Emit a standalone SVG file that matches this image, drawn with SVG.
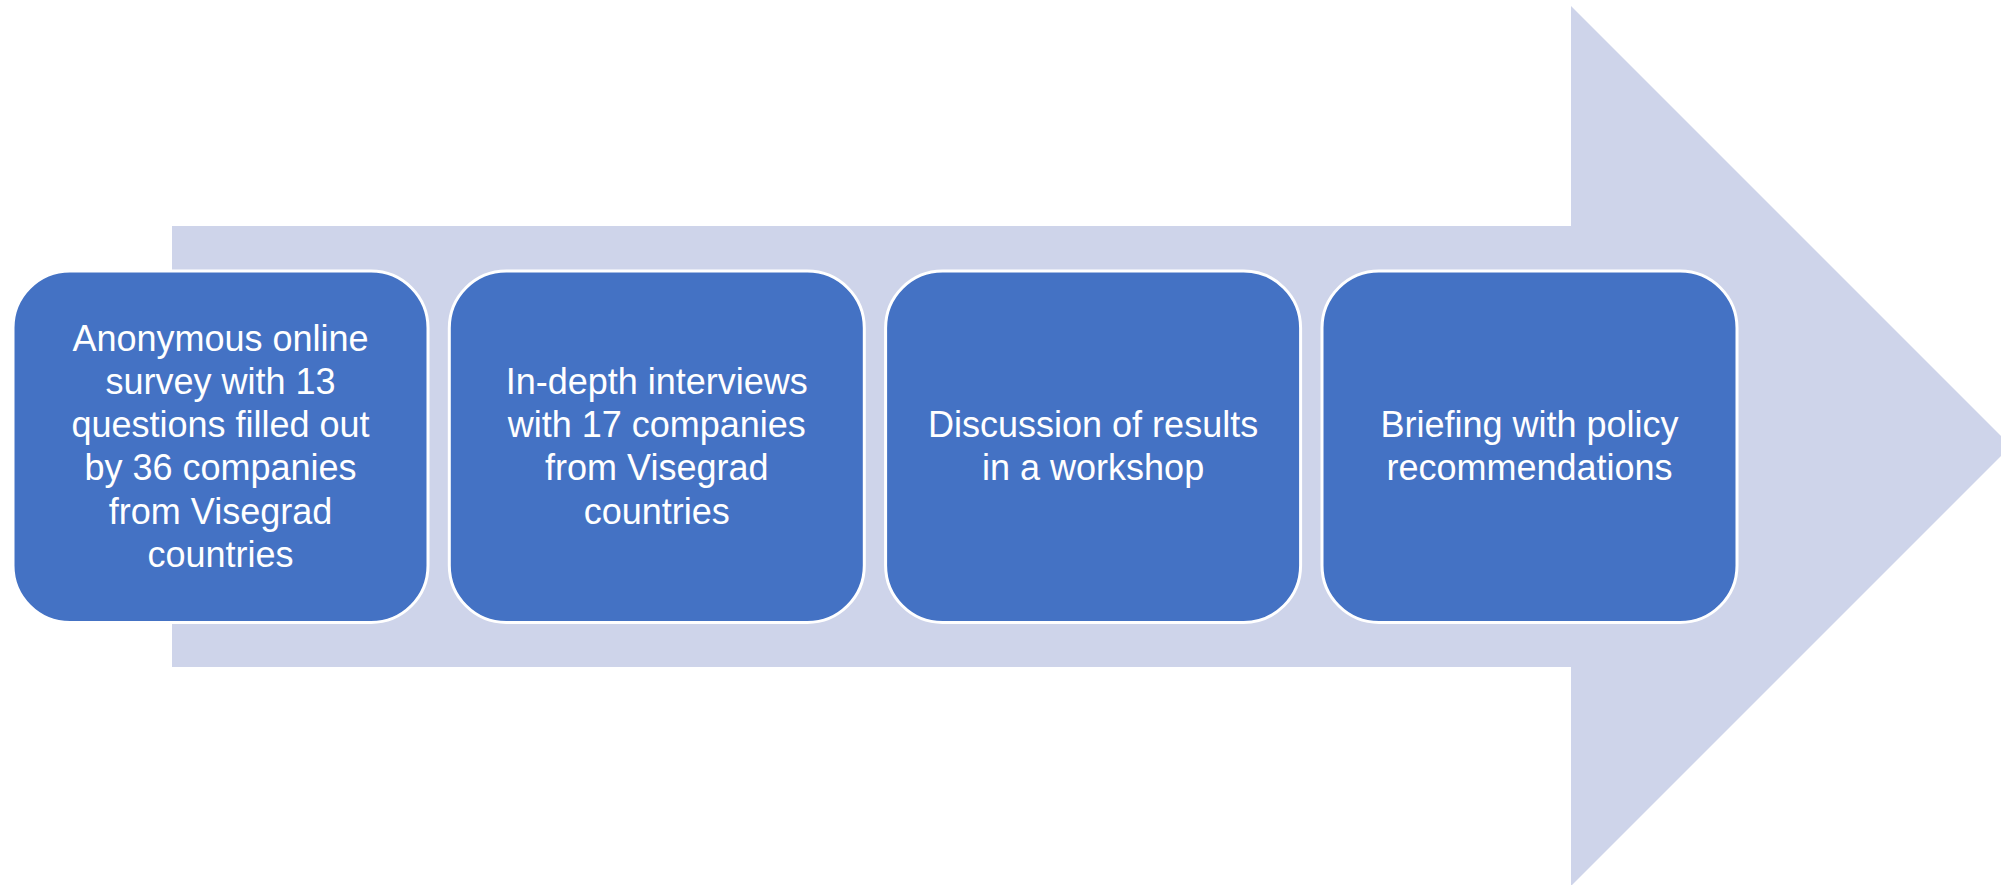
<svg xmlns="http://www.w3.org/2000/svg" width="2001" height="885" viewBox="0 0 2001 885">
<style>
.bg{fill:#FFFFFF}
.arrow{fill:#CED4EA}
.box{fill:#4472C4;stroke:#FFFFFF;stroke-width:3}
.lbl{font-family:"Liberation Sans",Arial,sans-serif;font-size:36px;fill:#FFFFFF;text-anchor:middle}
</style>
<rect class="bg" x="0" y="0" width="2001" height="885"/>
<g id="connectors">
<polygon id="big-arrow" class="arrow" points="172,226 1571,226 1571,6 2011,446 1571,886 1571,667 172,667"/>
</g>
<g id="node1">
<rect class="box" x="13" y="271" width="415" height="351.5" rx="57" ry="57"/>
<text class="lbl" x="220.5" y="350.5">Anonymous online</text>
<text class="lbl" x="220.5" y="393.8">survey with 13</text>
<text class="lbl" x="220.5" y="437.1">questions filled out</text>
<text class="lbl" x="220.5" y="480.4">by 36 companies</text>
<text class="lbl" x="220.5" y="523.7">from Visegrad</text>
<text class="lbl" x="220.5" y="567">countries</text>
</g>
<g id="node2">
<rect class="box" x="449.3" y="271" width="415" height="351.5" rx="57" ry="57"/>
<text class="lbl" x="656.8" y="393.8">In-depth interviews</text>
<text class="lbl" x="656.8" y="437.1">with 17 companies</text>
<text class="lbl" x="656.8" y="480.4">from Visegrad</text>
<text class="lbl" x="656.8" y="523.7">countries</text>
</g>
<g id="node3">
<rect class="box" x="885.6" y="271" width="415" height="351.5" rx="57" ry="57"/>
<text class="lbl" x="1093.1" y="437.1">Discussion of results</text>
<text class="lbl" x="1093.1" y="480.4">in a workshop</text>
</g>
<g id="node4">
<rect class="box" x="1322" y="271" width="415" height="351.5" rx="57" ry="57"/>
<text class="lbl" x="1529.5" y="437.1">Briefing with policy</text>
<text class="lbl" x="1529.5" y="480.4">recommendations</text>
</g>
</svg>
